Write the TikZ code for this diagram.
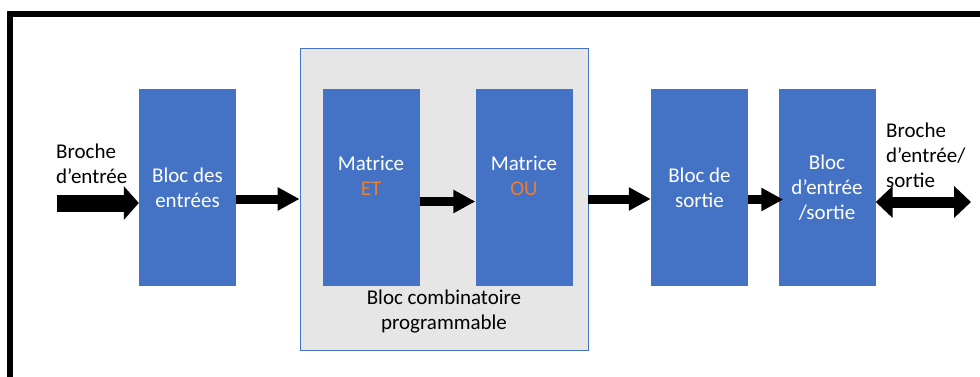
\documentclass[tikz,border=0pt]{standalone}
\usepackage{fontspec}
\setmainfont{Carlito}
\usetikzlibrary{arrows.meta}
\definecolor{blocblue}{HTML}{4472C4}
\definecolor{accent}{HTML}{ED7D31}
\definecolor{panel}{HTML}{E7E6E6}
\begin{document}
\begin{tikzpicture}[x=1pt, y=-1pt,
  font=\fontsize{21}{25}\selectfont,
  bloc/.style={fill=blocblue, text=white, minimum width=97pt, minimum height=197pt,
    inner sep=0pt, align=center},
  txt/.style={inner sep=0pt, align=center},
  lbl/.style={inner sep=0pt, align=left, anchor=west},
  midarrow/.style={line width=9pt, -{Triangle[length=22pt, width=22pt]}},
  fatarrow/.style={line width=17pt, -{Triangle[length=15pt, width=33pt]}},
  duoarrow/.style={line width=11pt, {Triangle[length=17pt, width=31pt]}-{Triangle[length=17pt, width=31pt]}}]

\useasboundingbox (0,0) rectangle (980,376);
\clip (0,0) rectangle (980,376);

% outer frame (runs past the right and bottom edges)
\draw[line width=6pt] (10,13.5) rectangle (1000,400);

% programmable combinational block
\node[fill=panel, draw=blocblue, line width=0.8pt, minimum width=288pt, minimum height=302pt,
  inner sep=0pt] (comb) at (444,199) {};
\node[txt] (combtxt) at (444,312) {Bloc combinatoire\\programmable};

% blocks
\node[bloc] (bin) at (187.5,187.5) {Bloc des\\entrées};
\node[bloc] (et) at (371,187.5) {};
\node[txt, text=white] (ettxt) at (371,176) {Matrice\\\textcolor{accent}{ET}};
\node[bloc] (ou) at (524,187.5) {};
\node[txt, text=white] (outxt) at (524,176) {Matrice\\\textcolor{accent}{OU}};
\node[bloc] (sortie) at (699.5,187.5) {Bloc de\\sortie};
\node[bloc] (es) at (827,187.5) {Bloc\\d’entrée\\/sortie};

% pin labels
\node[lbl] (pinlbl) at (56,164) {Broche\\d’entrée};
\node[lbl] (poutlbl) at (886,155) {Broche\\d’entrée/\\sortie};

% connectors
\coordinate (pin) at (57,203);
\coordinate (pout) at (971,202);
\draw[fatarrow] (pin) -- (bin.west |- pin);
\draw[midarrow] (bin.east |- comb.west) -- (comb.west);
\draw[midarrow] ([yshift=-14pt]et.east) -- ([yshift=-14pt]ou.west);
\draw[midarrow] (comb.east) -- (sortie.west |- comb.east);
\draw[midarrow] ([yshift=-12pt]sortie.east) -- ([yshift=-12pt,xshift=5pt]es.west);
\draw[duoarrow] (es.east |- pout) -- (pout);
\end{tikzpicture}
\end{document}
